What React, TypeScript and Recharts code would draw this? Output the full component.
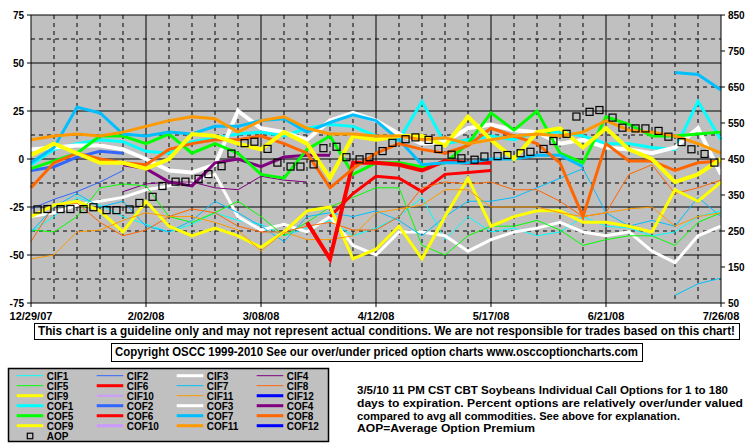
import { CartesianGrid, Line, LineChart, XAxis, YAxis } from 'recharts';

// weekly samples, day 0 = 12/29/07
const lineDays = [0, 7, 14, 21, 28, 35, 42, 49, 56, 63, 70, 77, 84, 91, 98, 105, 112, 119, 126, 133, 140, 147, 154, 161, 168, 175, 182, 189, 196, 203, 210];
const aopDays = [2, 5, 9, 12, 16, 19, 23, 26, 30, 33, 37, 40, 44, 47, 51, 54, 58, 61, 65, 68, 72, 75, 79, 82, 86, 89, 93, 96, 100, 103, 107, 110, 114, 117, 121, 124, 128, 131, 135, 138, 142, 145, 149, 152, 156, 159, 163, 166, 170, 173, 177, 180, 184, 187, 191, 194, 198, 201, 205, 208];

const tickDays = [0, 35, 70, 105, 140, 175, 210];
const tickLabels = ['12/29/07', '2/02/08', '3/08/08', '4/12/08', '5/17/08', '6/21/08', '7/26/08'];
const leftTicks = [-75, -50, -25, 0, 25, 50, 75];
const rightTicks = [50, 150, 250, 350, 450, 550, 650, 750, 850];

const N = null;
const cif1 = [-38, -30, -20, -24, -30, -34, -38, -34, -28, -32, -34, -40, -36, -32, -40, -36, -30, -20, -42, -30, -38, -36, -40, -38, -30, -35, -36, -40, -38, -30, -27];
const cif2 = [-26, -21, -17, -12, -6];
const cif3 = [-30, -28, -24, -22, -20, -16, -14, -12, -8, -30, -37, -34, -38, -30, -45, -50, -38, -38, -40, -48, -42, -38, -36, -33, -38, -40, -38, -48, -54, -40, -35];
const cif4 = [N, N, N, N, -17, -13, -12, -12, -15, -16, -9, -11, -12];
const cif5 = [-37, -38, -30, -15, -13, -14, -30, -33, -28, -22, -30, -40, -33, -25, -20, -15, -15, -45, -50, -40, -35, -35, -32, -37, -45, -42, -40, -40, -45, -33, -28];
const cif6 = [N, N, N, N, N, N, N, N, N, N, N, N, N, -30, -18, -9, -10, -17, -8, -7, -6];
const cif7 = [-38, -25, -18, -25, -22, -35, -38, -32, -22, -28, -35, -43, -30, -28, -30, -27, -32, -40, -30, -22, -22, -20, -15, -10, -5, -28, -35, -32, -35, -20, -30];
const cif7b = [N, N, N, N, N, N, N, N, N, N, N, N, N, N, N, N, N, N, N, N, N, N, N, N, N, N, N, N, -71, -65, -62];
const cif8 = [-43, -24, -23, -33, -40, -37, -30, -26, -28, -35, -38, -38, -35, -33, -37, -37, -30, -15, -12, -13, -12, -16, -16, -22, -30, -28, -8, -3, -18, -15, -11];
const cif9 = [-30, -24, -22, -27, -38, -22, -35, -40, -36, -40, -46, -38, -27, -25, -52, -47, -35, -52, -30, -10, -35, -30, -27, -27, -33, -33, -35, -38, -16, -22, -12];
const cif10: (number | null)[] = [];
const cif11 = [-52, -50, -38, -37, -32, -28, -30, -30, -33, -37, -48, -38, -42, -42, -40, -28, -26, -24, -16, -16, -25, -25, -25, -28, -30, -28, -26, -25, -35, -30, -28];
const cif12: (number | null)[] = [];

const cof1 = [-3, 5, 8, 10, 9, 4, 3, 9, 11, 13, 14, 12, 16, 18, 17, 12, 10, 30, 8, 10, 12, 10, 14, 14, 12, 8, 8, 6, 5, 30, 10];
const cof2 = [-6, -4, 1, 4, 3];
const cof3 = [5, 6, 7, 7, 5, 0, -6, -7, -3, 25, 16, 14, 10, 20, 24, 20, 13, 8, 9, 16, 18, 15, 14, 8, 10, 6, 5, 3, 6, 16, -8];
const cof4 = [N, N, N, N, -3, -5, -12, -14, -2, 0, -4, 1, 2, 2];
const cof5 = [-5, -1, 3, 12, 12, 8, 13, 3, 8, 3, -8, -10, 5, 12, -8, -2, -2, -4, -2, 8, 24, 15, 25, 3, -2, 22, 18, 12, 12, 13, 14];
const cof6 = [N, N, N, N, N, N, N, N, N, N, N, N, -33, -52, -2, -2, -3, -6, -1, -2, -2];
const cof7 = [-2, 6, 27, 24, 13, 12, 14, 13, 17, 17, 20, 21, 14, 19, 23, 20, 10, -3, -2, -2, 0, 0, 2, 2, -4];
const cof7b = [N, N, N, N, N, N, N, N, N, N, N, N, N, N, N, N, N, N, N, N, N, N, N, N, N, N, N, N, 45, 44, 36];
const cof8 = [-15, -2, 3, 0, -2, -3, 5, 8, 10, 10, 12, 8, 3, -15, -5, 3, 8, 5, 3, 7, 16, 12, 8, -2, -30, 8, -1, -1, -6, -2, -1];
const cof9 = [2, 8, 3, -2, -2, -5, 0, 13, 12, 8, 5, 14, 8, -10, 12, 10, 12, 12, 7, 22, 10, 0, 14, 16, 6, 16, 5, 0, -12, -8, 0];
const cof10: (number | null)[] = [];
const cof11 = [10, 12, 13, 12, 14, 17, 20, 22, 21, 14, 20, 22, 16, 13, 13, 12, 12, 10, 11, 8, 10, 12, 13, 12, 14, 20, 15, 14, 12, 8, 3];
const cof12: (number | null)[] = [];

// average option premium, right axis
const aop = [310, 311, 311, 311, 311, 316, 308, 308, 310, 328, 345, 375, 387, 387, 395, 408, 430, 465, 494, 498, 478, 440, 429, 429, 435, 480, 484, 455, 449, 455, 472, 495, 505, 510, 503, 478, 462, 452, 448, 457, 458, 461, 466, 470, 478, 500, 520, 568, 581, 586, 565, 537, 535, 535, 528, 512, 497, 477, 464, 440];

type Series = { key: string; name: string; color: string; width: number; values: (number | null)[]; legend: boolean };

const series: Series[] = [
  { key: 'cif1', name: 'CIF1', color: '#00FFFF', width: 1, values: cif1, legend: true },
  { key: 'cif2', name: 'CIF2', color: '#3366FF', width: 1, values: cif2, legend: true },
  { key: 'cif3', name: 'CIF3', color: '#FFFFFF', width: 3, values: cif3, legend: true },
  { key: 'cif4', name: 'CIF4', color: '#800080', width: 1, values: cif4, legend: true },
  { key: 'cif5', name: 'CIF5', color: '#00FF00', width: 1, values: cif5, legend: true },
  { key: 'cif6', name: 'CIF6', color: '#FF0000', width: 3, values: cif6, legend: true },
  { key: 'cif7', name: 'CIF7', color: '#00BFFF', width: 1, values: cif7, legend: true },
  { key: 'cif8', name: 'CIF8', color: '#FF6600', width: 1, values: cif8, legend: true },
  { key: 'cif9', name: 'CIF9', color: '#FFFF00', width: 3, values: cif9, legend: true },
  { key: 'cif10', name: 'CIF10', color: '#CC99FF', width: 2, values: cif10, legend: true },
  { key: 'cif11', name: 'CIF11', color: '#FF9900', width: 1, values: cif11, legend: true },
  { key: 'cif12', name: 'CIF12', color: '#0000FF', width: 3, values: cif12, legend: true },
  { key: 'cof1', name: 'COF1', color: '#00FFFF', width: 3, values: cof1, legend: true },
  { key: 'cof2', name: 'COF2', color: '#3366FF', width: 3, values: cof2, legend: true },
  { key: 'cof3', name: 'COF3', color: '#FFFFFF', width: 4, values: cof3, legend: true },
  { key: 'cof4', name: 'COF4', color: '#800080', width: 3, values: cof4, legend: true },
  { key: 'cof5', name: 'COF5', color: '#00FF00', width: 3, values: cof5, legend: true },
  { key: 'cof6', name: 'COF6', color: '#FF0000', width: 4, values: cof6, legend: true },
  { key: 'cof7', name: 'COF7', color: '#00BFFF', width: 3, values: cof7, legend: true },
  { key: 'cof8', name: 'COF8', color: '#FF6600', width: 3, values: cof8, legend: true },
  { key: 'cof9', name: 'COF9', color: '#FFFF00', width: 4, values: cof9, legend: true },
  { key: 'cof10', name: 'COF10', color: '#CC99FF', width: 3, values: cof10, legend: true },
  { key: 'cof11', name: 'COF11', color: '#FF9900', width: 3, values: cof11, legend: true },
  { key: 'cof12', name: 'COF12', color: '#0000FF', width: 4, values: cof12, legend: true },
  { key: 'cif7b', name: 'CIF7', color: '#00BFFF', width: 1, values: cif7b, legend: false },
  { key: 'cof7b', name: 'COF7', color: '#00BFFF', width: 3, values: cof7b, legend: false },
];

const allDays = Array.from(new Set([...lineDays, ...aopDays])).sort((a, b) => a - b);
const rows = allDays.map((day) => {
  const row: Record<string, number | null> = { day };
  const li = lineDays.indexOf(day);
  series.forEach((s) => {
    const v = li >= 0 ? s.values[li] : undefined;
    row[s.key] = v === undefined ? null : v;
  });
  const ai = aopDays.indexOf(day);
  row.aop = ai >= 0 ? aop[ai] : null;
  return row;
});

const tickFont = { fontFamily: "'Liberation Sans', Arial, sans-serif", fontWeight: 700, fill: '#000' };

const SquareDot = (props: any) => {
  const { cx, cy, index, value } = props;
  if (cx == null || cy == null || value == null) return <g key={`aop-${index}`} />;
  return (
    <rect key={`aop-${index}`} x={cx - 3.5} y={cy - 3.5} width={7} height={7} fill='none' stroke='#000' strokeWidth={1.2} />
  );
};

const descLines = [
  { text: '3/5/10 11 PM CST CBT Soybeans Individual Call Options for 1 to 180', y: 393.5, w: 371 },
  { text: 'days to expiration. Percent options are relatively over/under valued', y: 406.5, w: 386 },
  { text: 'compared to avg all commodities. See above for explanation.', y: 419.5, w: 323 },
  { text: 'AOP=Average Option Premium', y: 431.7, w: 178 },
];

export default function App() {
  const legendItems = series.filter((s) => s.legend);
  return (
    <div style={{ position: 'absolute', left: 0, top: 0, width: 755, height: 446, background: '#fff', overflow: 'hidden' }}>
      <LineChart width={755} height={325} data={rows} margin={{ top: 15, right: 0, bottom: 0, left: 0 }}>
        {/* minor dashed grid + background */}
        <CartesianGrid
          yAxisId='left'
          fill='#C0C0C0'
          fillOpacity={1}
          stroke='#000'
          strokeDasharray='4 4'
          horizontalValues={[-62.5, -37.5, -12.5, 12.5, 37.5, 62.5]}
          verticalValues={lineDays.filter((d) => d % 35 !== 0)}
        />
        {/* major solid grid */}
        <CartesianGrid
          yAxisId='left'
          stroke='#000'
          horizontalValues={[-50, -25, 0, 25, 50, 75]}
          verticalValues={[35, 70, 105, 140, 175]}
        />
        <XAxis
          dataKey='day'
          type='number'
          domain={[0, 210]}
          ticks={tickDays}
          interval={0}
          height={22}
          tickSize={4}
          tickMargin={5}
          stroke='#000'
          tick={{ ...tickFont, fontSize: 11 }}
          tickFormatter={(d: number) => tickLabels[tickDays.indexOf(d)] ?? ''}
        />
        <YAxis
          yAxisId='left'
          domain={[-75, 75]}
          ticks={leftTicks}
          interval={0}
          width={31}
          tickSize={4}
          tickMargin={3}
          stroke='#000'
          tick={{ ...tickFont, fontSize: 10 }}
        />
        <YAxis
          yAxisId='right'
          orientation='right'
          domain={[50, 850]}
          ticks={rightTicks}
          interval={0}
          width={34}
          tickSize={4}
          tickMargin={3}
          stroke='#000'
          tick={{ ...tickFont, fontSize: 10 }}
        />
        {series.map((s) => (
          <Line
            key={s.key}
            yAxisId='left'
            type='linear'
            dataKey={s.key}
            stroke={s.color}
            strokeWidth={s.width}
            dot={false}
            connectNulls
            isAnimationActive={false}
          />
        ))}
        <Line
          yAxisId='right'
          type='linear'
          dataKey='aop'
          stroke='none'
          dot={SquareDot}
          activeDot={false}
          isAnimationActive={false}
        />
      </LineChart>

      <svg width={755} height={446} style={{ position: 'absolute', left: 0, top: 0, pointerEvents: 'none' }}>
        <rect x={34.5} y={323.5} width={705} height={16} fill='#fff' stroke='#000' />
        <text x={38} y={335} textLength={697} lengthAdjust='spacingAndGlyphs' style={{ ...tickFont, fontSize: 12 }}>
          This chart is a guideline only and may not represent actual conditions. We are not responsible for trades based on this chart!
        </text>
        <rect x={111.5} y={343.5} width={531} height={18} fill='#fff' stroke='#000' />
        <text x={115} y={356} textLength={523} lengthAdjust='spacingAndGlyphs' style={{ ...tickFont, fontSize: 12 }}>
          Copyright OSCC 1999-2010 See our over/under priced option charts www.osccoptioncharts.com
        </text>

        {/* legend */}
        <rect x={8.5} y={368.5} width={320} height={73} fill='#C0C0C0' stroke='#000' strokeWidth={1.5} />
        {legendItems.map((s, i) => {
          const col = i % 4;
          const row = Math.floor(i / 4);
          const y = 375.7 + row * 10;
          const x0 = 16.7 + col * 80;
          return (
            <g key={s.key}>
              <line x1={x0} x2={x0 + 26.6} y1={y} y2={y} stroke={s.color} strokeWidth={Math.min(s.width, 3)} />
              <text x={x0 + 30} y={y + 3.8} style={{ ...tickFont, fontSize: 10 }}>
                {s.name}
              </text>
            </g>
          );
        })}
        <rect x={27.3} y={433.2} width={5.5} height={5.5} fill='none' stroke='#000' strokeWidth={1.2} />
        <text x={46.7} y={439.5} style={{ ...tickFont, fontSize: 10 }}>
          AOP
        </text>

        {descLines.map((l) => (
          <text key={l.y} x={357} y={l.y} textLength={l.w} lengthAdjust='spacingAndGlyphs' style={{ ...tickFont, fontSize: 11 }}>
            {l.text}
          </text>
        ))}
      </svg>
    </div>
  );
}
